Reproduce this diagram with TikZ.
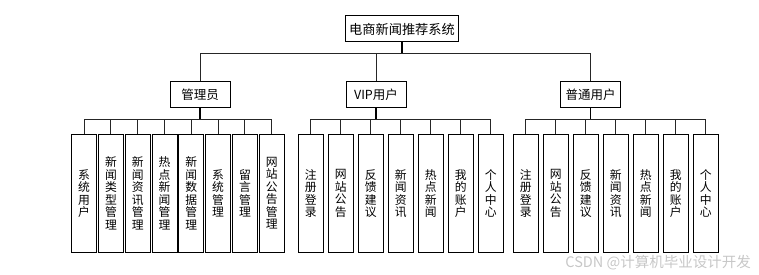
\documentclass[tikz,border=0pt]{standalone}
\usepackage{fontspec}
\newfontfamily\cjk{Noto Sans CJK SC}
\begin{document}
\begin{tikzpicture}[x=1pt,y=-1pt,
  box/.style={draw=black,line width=1pt,fill=white,inner sep=0pt,font=\cjk\fontsize{12.5}{14}\selectfont},
  leaf/.style={box,minimum width=25pt,minimum height=118.5pt,align=center,font=\cjk\fontsize{11.8}{12.5}\selectfont},
  link/.style={draw=black!85,line width=0.9pt},
  drop/.style={draw=black,line width=1.5pt}]
\path[use as bounding box] (0,0) rectangle (759,275);
\node[box,minimum width=113pt,minimum height=26pt,font=\cjk\fontsize{13.2}{15}\selectfont] (root) at (402,29) {电商新闻推荐系统};
\node[box,minimum width=60pt,minimum height=26pt] (ad) at (200,95) {管理员};
\node[box,minimum width=60pt,minimum height=26pt] (vip) at (376,95) {VIP用户};
\node[box,minimum width=60pt,minimum height=26pt] (pt) at (590.5,95) {普通用户};
\coordinate (b0) at (0,53.3);
\coordinate (b1) at (0,119.3);
\draw[drop] (root.south) -- (root.south |- b0);
\draw[link] (ad.north) -- (ad.north |- b0) -- (pt.north |- b0) -- (pt.north);
\draw[link] (vip.north) -- (vip.north |- b0);
% admin leaves
\foreach \t [count=\i] in {{系\\统\\用\\户},{新\\闻\\类\\型\\管\\理},{新\\闻\\资\\讯\\管\\理},{热\\点\\新\\闻\\管\\理},{新\\闻\\数\\据\\管\\理},{系\\统\\管\\理},{留\\言\\管\\理},{网\\站\\公\\告\\管\\理}}
  \node[leaf] (a\i) at ({84.1+26.8*(\i-1)},193.4) {\t};
\foreach \t [count=\i] in {{注\\册\\登\\录},{网\\站\\公\\告},{反\\馈\\建\\议},{新\\闻\\资\\讯},{热\\点\\新\\闻},{我\\的\\账\\户},{个\\人\\中\\心}}
  \node[leaf] (v\i) at ({310.8+30*(\i-1)},193.4) {\t};
\foreach \t [count=\i] in {{注\\册\\登\\录},{网\\站\\公\\告},{反\\馈\\建\\议},{新\\闻\\资\\讯},{热\\点\\新\\闻},{我\\的\\账\\户},{个\\人\\中\\心}}
  \node[leaf] (n\i) at ({525.8+30*(\i-1)},193.4) {\t};
\draw[drop] (ad.south) -- (ad.south |- b1);
\draw[drop] (vip.south) -- (vip.south |- b1);
\draw[drop] (pt.south) -- (pt.south |- b1);
\draw[link] (a1.north) -- (a1.north |- b1) -- (a8.north |- b1) -- (a8.north);
\foreach \i in {2,...,7} \draw[link] (a\i.north) -- (a\i.north |- b1);
\draw[link] (v1.north) -- (v1.north |- b1) -- (v7.north |- b1) -- (v7.north);
\foreach \i in {2,...,6} \draw[link] (v\i.north) -- (v\i.north |- b1);
\draw[link] (n1.north) -- (n1.north |- b1) -- (n7.north |- b1) -- (n7.north);
\foreach \i in {2,...,6} \draw[link] (n\i.north) -- (n\i.north |- b1);
\node[text=black!22,font=\cjk\fontsize{14.5}{16}\selectfont,anchor=east,inner sep=0pt] (wm) at (751,262.5) {CSDN @计算机毕业设计开发};
\end{tikzpicture}
\end{document}
